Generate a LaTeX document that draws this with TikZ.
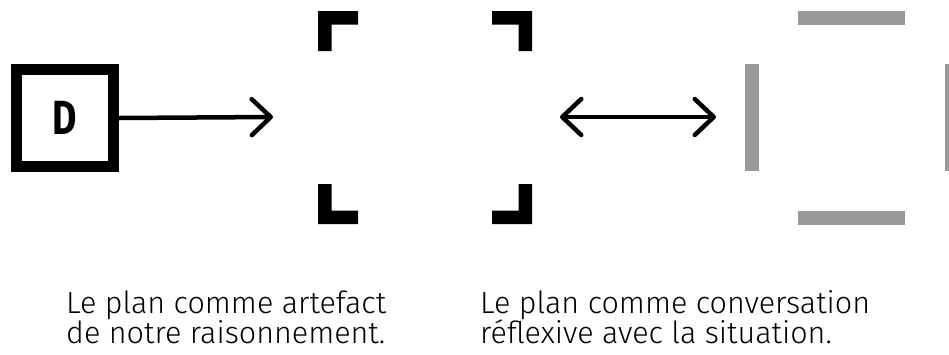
\documentclass[tikz,border=0pt]{standalone}
\usepackage{fontspec}
\setmainfont{Fira Sans}
\newfontfamily\captionfont{Fira Sans Light}
\usetikzlibrary{arrows.meta}
\definecolor{barGrey}{HTML}{999999}
\tikzset{
  conn/.style={line width=4.5pt, line cap=round, line join=round,
    arrows={-Straight Barb[length=19pt,width=36pt,line width=4.5pt,round]}},
  dconn/.style={line width=4.5pt, line cap=round, line join=round,
    arrows={Straight Barb[length=19pt,width=36pt,line width=4.5pt,round]-Straight Barb[length=19pt,width=36pt,line width=4.5pt,round]}},
  caption/.style={anchor=base west, inner sep=0pt, font=\captionfont\fontsize{30.5}{30}\selectfont},
  dbox/.style={draw=black, line width=11pt, minimum size=97pt, inner sep=0pt,
    font=\bfseries\fontsize{48}{48}\selectfont},
  corner/.style={fill=black},
  greybar/.style={fill=barGrey}
}
\begin{document}
\begin{tikzpicture}[x=1pt,y=-1pt]
\useasboundingbox (0,0) rectangle (949,354);
% D box
\node[dbox] (d) at (65,118) {\scalebox{0.78}[1]{D}};
% bracket frame (invisible)
\node[minimum width=214pt, minimum height=213pt, inner sep=0pt] (b) at (425,117.5) {};
\fill[corner] (318,11) -- (358,11) -- (358,24.5) -- (331.5,24.5) -- (331.5,51) -- (318,51) -- cycle;
\fill[corner] (532,11) -- (492,11) -- (492,24.5) -- (518.5,24.5) -- (518.5,51) -- (532,51) -- cycle;
\fill[corner] (318,224) -- (358,224) -- (358,210.5) -- (331.5,210.5) -- (331.5,184) -- (318,184) -- cycle;
\fill[corner] (532,224) -- (492,224) -- (492,210.5) -- (518.5,210.5) -- (518.5,184) -- (532,184) -- cycle;
% grey frame
\node[minimum width=214pt, minimum height=214pt, inner sep=0pt] (g) at (852,118) {};
\fill[greybar] (798,11) rectangle (905,25);
\fill[greybar] (798,211) rectangle (905,225);
\fill[greybar] (745,64) rectangle (759,171);
\fill[greybar] (945,64) rectangle (959,171);
% connectors
\coordinate (a1) at (273,117);
\draw[conn] (d.east) -- (a1);
\coordinate (c1) at (560,117);
\coordinate (c2) at (716,117);
\draw[dconn] (c1) -- (c2);
% captions
\node[caption] (t1) at (66,313) {Le plan comme artefact};
\node[caption] (t2) at (66,343) {de notre raisonnement.};
\node[caption] (t3) at (480,313) {Le plan comme conversation};
\node[caption] (t4) at (480,343) {réflexive avec la situation.};
\end{tikzpicture}
\end{document}
